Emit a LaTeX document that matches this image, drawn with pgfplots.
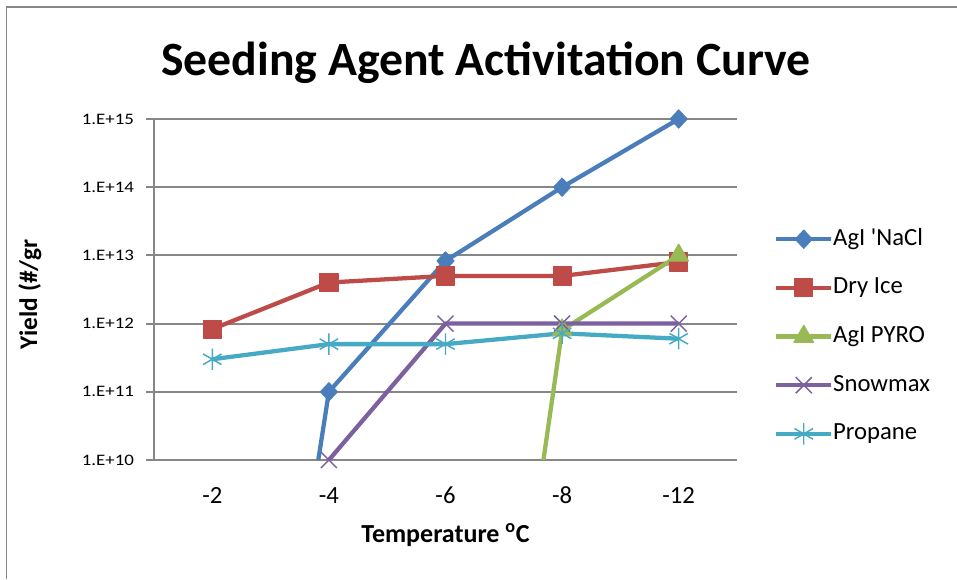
\documentclass[border=0pt]{standalone}
\usepackage{fontspec}
\setmainfont{Carlito}
\usepackage{graphicx}
\usepackage{pgfplots}
\pgfplotsset{compat=1.18}

\definecolor{gridcol}{HTML}{878787}
\definecolor{cBlue}{HTML}{4A7EBB}
\definecolor{cRed}{HTML}{BE4B48}
\definecolor{cGreen}{HTML}{98B954}
\definecolor{cPurple}{HTML}{7D60A0}
\definecolor{cCyan}{HTML}{46AAC5}

% series styles: line + marker, shared by lines, marks and legend images
\pgfplotsset{
  sNaCl/.style={cBlue, mark=diamond*, mark size=6.8pt, mark options={solid, fill=cBlue, line width=0.8pt, xscale=1.25}},
  sDry/.style={cRed, mark=square*, mark size=6.8pt, mark options={solid, fill=cRed, line width=0.8pt}},
  sPyro/.style={cGreen, mark=triangle*, mark size=8.5pt, mark options={solid, fill=cGreen, line width=0.8pt}},
  sSnow/.style={cPurple, mark=x, mark size=8.5pt, mark options={solid, line width=1.1pt}},
  sProp/.style={cCyan, mark=asterisk, mark size=8pt, mark options={solid, line width=1.1pt}},
}
\newcommand{\wide}[1]{\scalebox{1.18}[1]{#1}}

\begin{document}
\begin{tikzpicture}
% outer chart frame (left and top edges only)
\draw[gridcol, line width=1.1pt] (4.9pt,0pt) -- (4.9pt,429pt) -- (717.75pt,429pt);
\node[anchor=base, font=\fontsize{35.8}{40}\selectfont\bfseries] at (364.5pt,377.25pt)
  {Seeding Agent Activitation Curve};

\begin{axis}[
  at={(115.5pt,89.25pt)}, anchor=south west,
  scale only axis, width=437.25pt, height=255.75pt,
  ymode=log, ymin=1e10, ymax=1e15,
  xmin=-0.5, xmax=4.5,
  xtick={0,1,2,3,4}, xticklabels={-2,-4,-6,-8,-12},
  ytick={1e10,1e11,1e12,1e13,1e14,1e15},
  yticklabels={\wide{1.E+10},\wide{1.E+11},\wide{1.E+12},\wide{1.E+13},\wide{1.E+14},\wide{1.E+15}},
  yminorticks=false,
  axis x line*=bottom, axis y line*=left,
  axis line style={gridcol, line width=1.4pt, -},
  ymajorgrids, grid style={gridcol, line width=1.4pt},
  tick align=outside, major tick length=6pt,
  xtick style={draw=none}, ytick style={gridcol, line width=1.4pt},
  ytick pos=left, xtick pos=bottom,
  yticklabel style={font=\fontsize{12}{14}\selectfont, xshift=-5.5pt},
  xticklabel style={font=\fontsize{18.5}{22}\selectfont, anchor=base, yshift=-26.5pt},
  xlabel={Temperature \textsuperscript{o}C},
  ylabel={Yield (\#/gr},
  xlabel style={font=\fontsize{19.5}{22}\selectfont\bfseries, at={(axis description cs:0.5,-0.243)}, anchor=base},
  ylabel style={font=\fontsize{19}{22}\selectfont\bfseries, at={(axis description cs:-0.2127,0.485)}, anchor=center},
  every axis plot/.append style={line width=3.2pt, line join=round},
  legend style={at={(axis description cs:1.0635,0.362)}, anchor=west, draw=none, fill=none,
    inner sep=0pt, row sep=19.5pt, column sep=0pt,
    nodes={inner sep=0pt, text height=13pt, text depth=4pt, font=\fontsize{18.5}{22}\selectfont}},
  legend cell align=left,
  legend image code/.code={\draw[mark repeat=2, mark phase=2] plot coordinates {(0pt,0pt)(20.5pt,0pt)(41pt,0pt)};},
]
% AgI 'NaCl
\addplot[sNaCl, mark=none, forget plot] coordinates {(0,1) (1,1e11) (2,8.3e12) (3,1e14) (4,1e15)};
\addplot[sNaCl, only marks, forget plot] coordinates {(1,1e11) (2,8.3e12) (3,1e14) (4,1e15)};
% Dry Ice
\addplot[sDry, mark=none, forget plot] coordinates {(0,8.3e11) (1,4e12) (2,5e12) (3,5e12) (4,8e12)};
\addplot[sDry, only marks, forget plot] coordinates {(0,8.3e11) (1,4e12) (2,5e12) (3,5e12) (4,8e12)};
% AgI PYRO
\addplot[sPyro, mark=none, forget plot] coordinates {(0,1) (1,1) (2,1) (3,8e11) (4,1e13)};
\addplot[sPyro, only marks, forget plot] coordinates {(3,8e11) (4,1e13)};
% Snowmax
\addplot[sSnow, mark=none, forget plot] coordinates {(0,1) (1,1e10) (2,1e12) (3,1e12) (4,1e12)};
\addplot[sSnow, only marks, forget plot] coordinates {(1,1e10) (2,1e12) (3,1e12) (4,1e12)};
% Propane
\addplot[sProp, mark=none, forget plot] coordinates {(0,3e11) (1,5e11) (2,5e11) (3,7.2e11) (4,6e11)};
\addplot[sProp, only marks, forget plot] coordinates {(0,3e11) (1,5e11) (2,5e11) (3,7.2e11) (4,6e11)};

\addlegendimage{sNaCl, line width=3.2pt}
\addlegendentry{AgI \textquotesingle NaCl}
\addlegendimage{sDry, line width=3.2pt}
\addlegendentry{Dry Ice}
\addlegendimage{sPyro, line width=3.2pt}
\addlegendentry{AgI PYRO}
\addlegendimage{sSnow, line width=3.2pt}
\addlegendentry{Snowmax}
\addlegendimage{sProp, line width=3.2pt}
\addlegendentry{Propane}
\end{axis}
\pgfresetboundingbox
\useasboundingbox (0pt,0pt) rectangle (717.75pt,434.25pt);
\end{tikzpicture}
\end{document}
